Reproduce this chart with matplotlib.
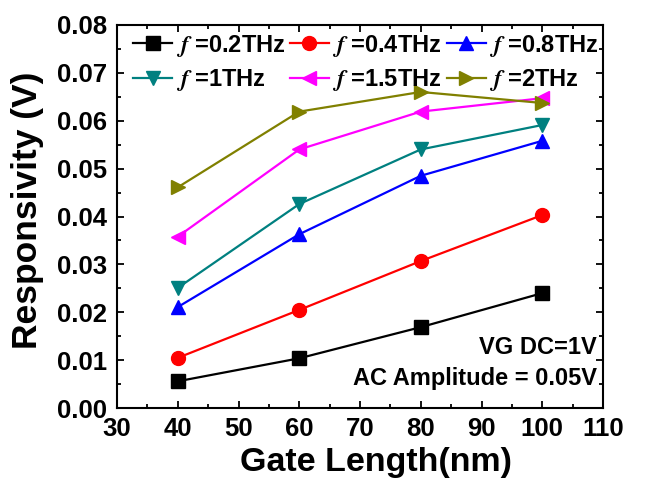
import matplotlib
matplotlib.use("Agg")
import matplotlib.pyplot as plt
from matplotlib.ticker import MultipleLocator, FormatStrFormatter

plt.rcParams['font.family'] = ['Liberation Sans', 'DejaVu Sans']
plt.rcParams['font.weight'] = 'bold'
plt.rcParams['mathtext.fontset'] = 'stix'

gate_length = [40, 60, 80, 100]
labels = ["$f$ =0.2THz", "$f$ =0.4THz", "$f$ =0.8THz", "$f$ =1THz", "$f$ =1.5THz", "$f$ =2THz"]
r_02 = [0.0056, 0.0104, 0.0169, 0.0240]
r_04 = [0.0105, 0.0205, 0.0307, 0.0403]
r_08 = [0.0211, 0.0363, 0.0485, 0.0558]
r_1 = [0.0251, 0.0426, 0.0540, 0.0591]
r_15 = [0.0358, 0.0540, 0.0619, 0.0647]
r_2 = [0.0461, 0.0619, 0.0660, 0.0637]

series = [r_02, r_04, r_08, r_1, r_15, r_2]
colors = ['black', 'red', 'blue', '#008080', 'magenta', '#808000']
markers = ['s', 'o', '^', 'v', '<', '>']

fig = plt.figure(figsize=(6.54, 4.79), dpi=100)
ax = fig.add_axes([0.179, 0.148, 0.743, 0.800])

handles = []
for y, c, m, lab in zip(series, colors, markers, labels):
    h, = ax.plot(gate_length, y, color=c, marker=m, markersize=10, linewidth=1.6, label=lab)
    handles.append(h)

ax.set_xlim(30, 110)
ax.set_ylim(0, 0.08)
ax.xaxis.set_major_locator(MultipleLocator(10))
ax.xaxis.set_minor_locator(MultipleLocator(5))
ax.yaxis.set_major_locator(MultipleLocator(0.01))
ax.yaxis.set_minor_locator(MultipleLocator(0.005))
ax.yaxis.set_major_formatter(FormatStrFormatter('%.2f'))
ax.tick_params(which='both', direction='in', top=True, right=True, labelsize=18.5, width=1.3)
ax.tick_params(which='major', length=5)
ax.tick_params(which='minor', length=3)
ax.tick_params(axis='x', which='major', pad=6.5)
ax.tick_params(axis='y', which='major', pad=7.5)
for lbl in ax.get_xticklabels() + ax.get_yticklabels():
    lbl.set_fontweight('bold')
for s in ax.spines.values():
    s.set_linewidth(1.5)

ax.set_xlabel('Gate Length(nm)', fontsize=24.5, fontweight='bold')
ax.set_ylabel('Responsivity (V)', fontsize=25.5, fontweight='bold')
ax.xaxis.set_label_coords(0.533, -0.102, transform=ax.transAxes)
ax.yaxis.set_label_coords(-0.150, 0.517, transform=ax.transAxes)
ax.xaxis.label.set_va('top')

# row-major order for a 3-column legend
order = [0, 3, 1, 4, 2, 5]
ax.legend([handles[i] for i in order], [labels[i] for i in order],
          loc='upper left', bbox_to_anchor=(0.033, 0.980), ncol=3, frameon=False,
          handlelength=1.65, handletextpad=0.15, columnspacing=0.2,
          labelspacing=0.36, borderaxespad=0, borderpad=0,
          prop={'weight': 'bold', 'size': 17})

ax.text(0.988, 0.157, 'VG DC=1V', transform=ax.transAxes, ha='right', va='center',
        fontsize=17, fontweight='bold')
ax.text(0.988, 0.078, 'AC Amplitude = 0.05V', transform=ax.transAxes, ha='right', va='center',
        fontsize=17, fontweight='bold')

fig.savefig('out.png', dpi=100)
